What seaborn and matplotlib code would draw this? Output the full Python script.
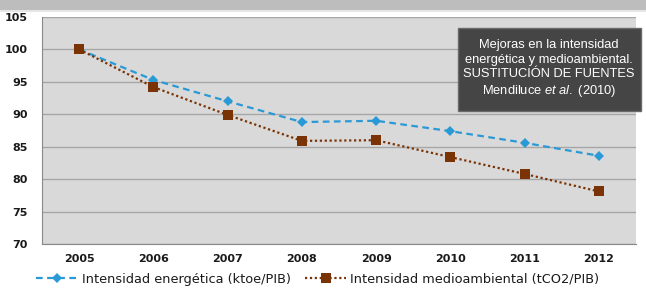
import pandas as pd
import matplotlib.pyplot as plt
import seaborn as sns
from matplotlib.patches import Rectangle, FancyBboxPatch
from matplotlib.lines import Line2D

# Data
years = ['2005', '2006', '2007', '2008', '2009', '2010', '2011', '2012']
energetica = [100, 95.3, 92.0, 88.8, 89.0, 87.4, 85.6, 83.6]
medioambiental = [100, 94.2, 89.9, 85.9, 86.0, 83.4, 80.8, 78.1]
y_ticks = [70, 75, 80, 85, 90, 95, 100, 105]

label_e = 'Intensidad energética (ktoe/PIB)'
label_m = 'Intensidad medioambiental (tCO2/PIB)'
note = 'Mejoras en la intensidad\nenergética y medioambiental.\nSUSTITUCIÓN DE FUENTES\nMendiluce $\\it{et\\ al.}$ (2010)'

df = pd.DataFrame({'year': years, label_e: energetica, label_m: medioambiental})
df_long = df.melt(id_vars='year', var_name='serie', value_name='valor')

sns.set_style('white')
plt.rcParams['font.family'] = ['DejaVu Sans']
plt.rcParams['mathtext.fontset'] = 'custom'
plt.rcParams['mathtext.it'] = 'Liberation Sans:italic'
plt.rcParams['mathtext.rm'] = 'Liberation Sans'

fig = plt.figure(figsize=(6.46, 2.91), dpi=100)
fig.patch.set_facecolor('white')

# grey header strip at the top of the slide
fig.add_artist(Rectangle((0, 0.965), 1, 0.035, transform=fig.transFigure,
                         facecolor='#bdbdbd', edgecolor='none'))
fig.add_artist(Rectangle((0, 0.958), 1, 0.008, transform=fig.transFigure,
                         facecolor='#e6e6e6', edgecolor='none'))

ax = fig.add_axes([42 / 646, 1 - 244 / 291, 594 / 646, 227 / 291])
ax.set_facecolor('#d9d9d9')

blue = '#2a9ad6'
brown = '#7a3305'

sns.lineplot(data=df_long, x='year', y='valor', hue='serie', style='serie',
             palette={label_e: blue, label_m: brown},
             dashes={label_e: (3, 2), label_m: (1, 1.2)},
             markers={label_e: 'D', label_m: 's'},
             linewidth=1.6, markeredgewidth=0, sort=False, ax=ax, legend=False)

ax.lines[0].set_markersize(5.5)
ax.lines[1].set_markersize(6.5)

ax.set_xlim(-0.5, len(years) - 0.5)
ax.set_ylim(70, 105)
ax.set_yticks(y_ticks)
ax.yaxis.grid(True, color='#a6a6a6', linewidth=1)
ax.set_axisbelow(True)
ax.set_xlabel('')
ax.set_ylabel('')

ax.set_xticks(range(len(years)))
ax.set_xticklabels(years, fontsize=8, fontweight='bold', color='#1a1a1a')
ax.set_xticks([i - 0.5 for i in range(len(years) + 1)], minor=True)
ax.tick_params(axis='x', which='major', length=0, pad=7)
ax.tick_params(axis='x', which='minor', length=4, color='#888888', direction='out')
ax.tick_params(axis='y', length=4, color='#888888', direction='out', labelsize=8,
               pad=6, labelcolor='#1a1a1a')
for lab in ax.get_yticklabels():
    lab.set_fontweight('bold')

for side in ['top', 'right']:
    ax.spines[side].set_visible(False)
ax.spines['left'].set_color('#888888')
ax.spines['bottom'].set_color('#888888')

# annotation box
fig.add_artist(FancyBboxPatch((458 / 646, 1 - 111 / 291), 183 / 646, 83 / 291,
                              boxstyle='square,pad=0', transform=fig.transFigure,
                              facecolor='#454545', edgecolor='#6a6a6a', linewidth=1))
fig.text(549 / 646, 1 - 69 / 291, note, ha='center', va='center', color='white',
         fontsize=9.3, linespacing=1.25,
         family=['Liberation Sans Narrow', 'Liberation Sans', 'DejaVu Sans'])

# legend
handles = [Line2D([], [], color=blue, linestyle=(0, (3, 2)), marker='D', markersize=5.5,
                  markeredgewidth=0, linewidth=1.6),
           Line2D([], [], color=brown, linestyle=(0, (1, 1.2)), marker='s', markersize=6.5,
                  markeredgewidth=0, linewidth=1.6)]
fig.legend(handles, [label_e, label_m], loc='center', bbox_to_anchor=(0.492, 1 - 279 / 291),
           ncol=2, frameon=False, fontsize=9.3, handlelength=3.2, columnspacing=1.1,
           handletextpad=0.3, labelcolor='#1a1a1a')

fig.savefig('out.png', dpi=100)
